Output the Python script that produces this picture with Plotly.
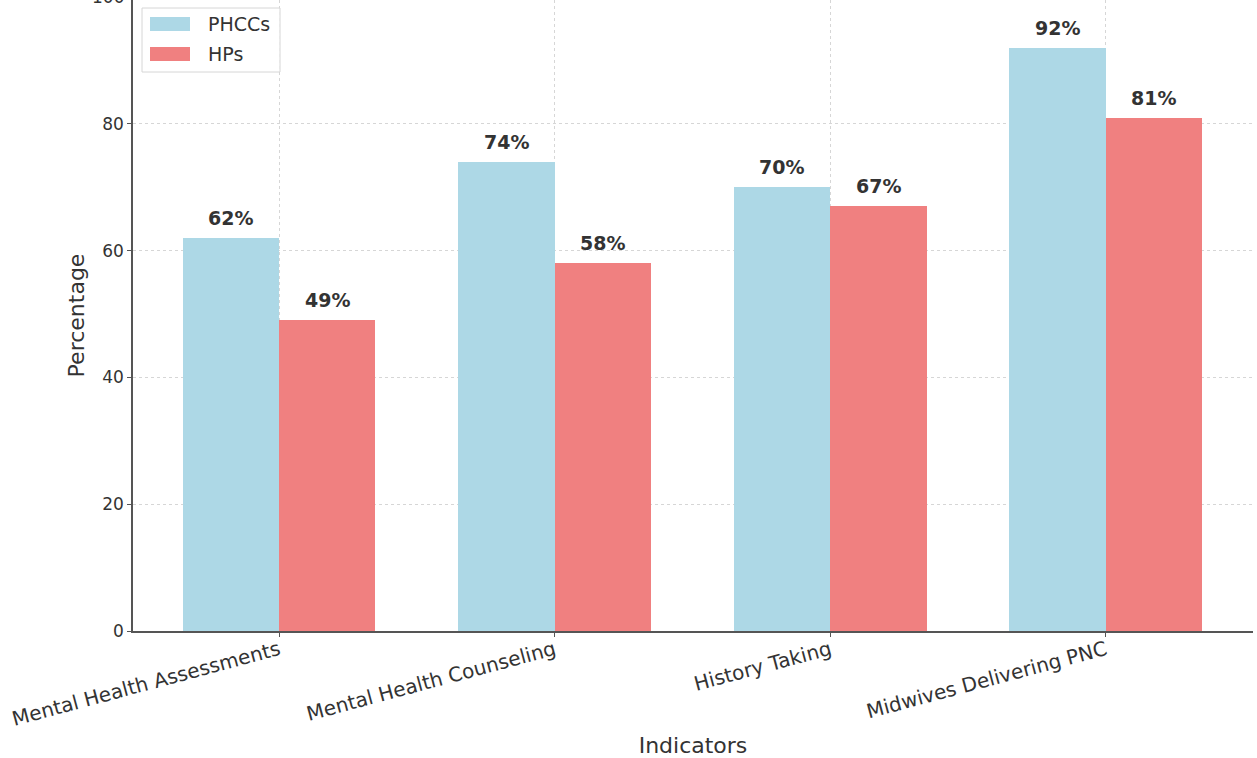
import plotly.graph_objects as go

indicators = ["Mental Health Assessments", "Mental Health Counseling",
              "History Taking", "Midwives Delivering PNC"]
phcc_values = [62, 74, 70, 92]
hp_values = [49, 58, 67, 81]
y_ticks = [0, 20, 40, 60, 80, 100]
series_names = ["PHCCs", "HPs"]
series_colors = ["#add8e6", "#f08080"]

bar_width = 0.35
idx = list(range(len(indicators)))
font_family = "DejaVu Sans, sans-serif"
text_color = "#333333"
y_range = [0, 99.56]

# plot-area geometry in pixels (used for the hand-drawn legend)
W, H = 1257, 758
ML, MR, MT, MB = 133, 4, 0, 127
PW, PH = W - ML - MR, H - MT - MB


def px_x(x):
    return (x - ML) / PW


def px_y(y):
    return 1 - (y - MT) / PH


fig = go.Figure()
for name, color, vals, off in ((series_names[0], series_colors[0], phcc_values, -bar_width / 2),
                               (series_names[1], series_colors[1], hp_values, bar_width / 2)):
    xs = [i + off for i in idx]
    fig.add_trace(go.Bar(
        x=xs, y=vals, width=bar_width, name=name,
        marker=dict(color=color, line=dict(width=0)), showlegend=False,
    ))
    # value labels above each bar
    for x, v in zip(xs, vals):
        fig.add_annotation(
            x=x, y=v, text=f"<b>{v}%</b>", showarrow=False,
            yanchor="middle", yshift=20,
            font=dict(family=font_family, size=19, color=text_color),
        )

# top tick label sits at the page edge, just above the visible range
fig.add_annotation(
    x=0, xref="paper", xanchor="right", xshift=-7,
    y=100 / y_range[1], yref="paper", yanchor="middle",
    text="100", showarrow=False,
    font=dict(family=font_family, size=17, color=text_color),
)

# legend box
fig.add_shape(type="rect", xref="paper", yref="paper",
              x0=px_x(142), x1=px_x(280), y0=px_y(72), y1=px_y(8),
              line=dict(color="#d6d6d6", width=1), fillcolor="rgba(255,255,255,0.8)",
              layer="above")
for k, (name, color) in enumerate(zip(series_names, series_colors)):
    top = 17 + k * 30
    fig.add_shape(type="rect", xref="paper", yref="paper",
                  x0=px_x(150), x1=px_x(190), y0=px_y(top + 14), y1=px_y(top),
                  line=dict(width=0), fillcolor=color, layer="above")
    fig.add_annotation(x=px_x(206), y=px_y(top + 7), xref="paper", yref="paper",
                       xanchor="left", yanchor="middle", text=name, showarrow=False,
                       font=dict(family=font_family, size=19, color=text_color))

grid = dict(showgrid=True, gridcolor="#d6d6d6", griddash="dot", gridwidth=1)
fig.update_layout(
    width=W, height=H,
    margin=dict(l=ML, r=MR, t=MT, b=MB),
    plot_bgcolor="white", paper_bgcolor="white",
    font=dict(family=font_family, color=text_color, size=17),
    barmode="overlay", bargap=0,
    showlegend=False,
    xaxis=dict(
        range=[-0.53, 3.535], tickmode="array", tickvals=idx, ticktext=indicators,
        tickangle=-15, tickfont=dict(size=20), ticklabelstandoff=-6,
        title=dict(text="Indicators", font=dict(size=22), standoff=10),
        showline=True, linecolor="#555555", linewidth=1.5,
        ticks="outside", ticklen=4, tickcolor="#555555", zeroline=False, **grid,
    ),
    yaxis=dict(
        range=y_range, tickmode="array", tickvals=y_ticks,
        tickfont=dict(size=17),
        title=dict(text="Percentage", font=dict(size=22), standoff=12),
        showline=True, linecolor="#555555", linewidth=1.5,
        ticks="outside", ticklen=4, tickcolor="#555555", zeroline=False, **grid,
    ),
)

fig.write_html("out.html")
